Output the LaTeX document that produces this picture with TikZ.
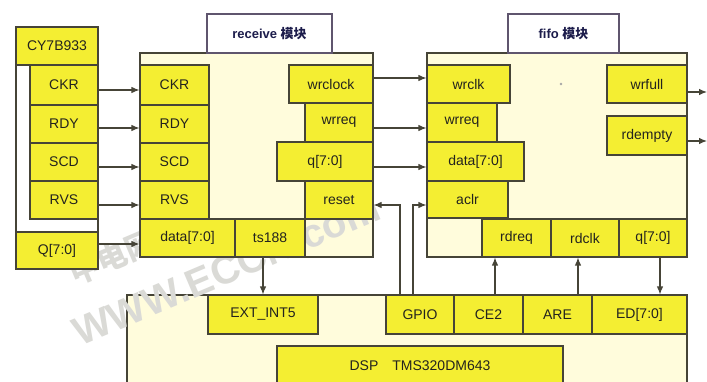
\documentclass[tikz,border=0pt]{standalone}
\usepackage{fontspec}
\setmainfont{Liberation Sans}
\newfontfamily\cjk{Noto Sans CJK SC}
\usetikzlibrary{arrows.meta}
\definecolor{yel}{RGB}{244,238,50}
\definecolor{cream}{RGB}{255,252,220}
\definecolor{bcol}{RGB}{70,68,55}
\definecolor{tcol}{RGB}{95,85,110}
\definecolor{txt}{RGB}{35,35,30}
\definecolor{wm}{RGB}{218,218,214}
\tikzset{
  ybox/.style={draw=bcol, fill=yel, line width=1.1pt, inner sep=0pt, font=\fontsize{14}{16}\selectfont, text=txt},
  frame/.style={draw=bcol, fill=cream, line width=1.1pt},
  wframe/.style={draw=bcol, fill=white, line width=1.1pt},
  tbox/.style={draw=tcol, fill=white, line width=1.1pt, inner sep=0pt, font=\fontsize{13}{15}\selectfont\bfseries, text=txt!80!blue},
  arr/.style={draw=bcol, line width=1.1pt, -{Latex[length=8pt,width=6.5pt]}},
  wmark/.style={text=wm, font=\fontsize{40}{44}\selectfont\bfseries, rotate=23}
}
\begin{document}
\begin{tikzpicture}[x=1pt,y=-1pt]
\clip (0,0) rectangle (707,382);
\fill[white] (0,0) rectangle (707,382);
% frames
\draw[wframe] (16,27) rectangle (98,232);
\draw[frame] (140,53) rectangle (373,257);
\draw[frame] (427,53) rectangle (687,257);
\draw[frame] (127,295) rectangle (687,420);
% watermark
\node[wmark, font=\fontsize{30}{34}\selectfont\bfseries] (wm1) at (112,257) {\cjk 中电网};
\node[wmark] (wm2) at (226,270) {WWW.ECCN.com};
% CY7B933
\node[ybox, minimum width=82, minimum height=38] (cy) at (57,46) {CY7B933};
\node[ybox, minimum width=68, minimum height=40] (ckra) at (64,85) {CKR};
\node[ybox, minimum width=68, minimum height=38] (rdya) at (64,124) {RDY};
\node[ybox, minimum width=68, minimum height=38] (scda) at (64,162) {SCD};
\node[ybox, minimum width=68, minimum height=38] (rvsa) at (64,200) {RVS};
\node[ybox, minimum width=82, minimum height=37] (qa) at (57,250.5) {Q[7:0]};
% receive
\node[tbox, minimum width=125, minimum height=39] (rtitle) at (269.5,33.5) {receive {\cjk 模块}};
\node[ybox, minimum width=69, minimum height=40] (ckrb) at (174.5,85) {CKR};
\node[ybox, minimum width=69, minimum height=38] (rdyb) at (174.5,124) {RDY};
\node[ybox, minimum width=69, minimum height=38] (scdb) at (174.5,162) {SCD};
\node[ybox, minimum width=69, minimum height=38] (rvsb) at (174.5,200) {RVS};
\node[ybox, minimum width=95, minimum height=38] (datab) at (187.5,238) {data[7:0]};
\node[ybox, minimum width=70, minimum height=38] (ts) at (270,238) {ts188};
\node[ybox, minimum width=84, minimum height=38] (wrclock) at (331,84) {wrclock};
\node[ybox, minimum width=68, minimum height=39] (wrreqb) at (339,122.5) {wrreq};
\node[ybox, minimum width=96, minimum height=39] (qb) at (325,161.5) {q[7:0]};
\node[ybox, minimum width=68, minimum height=38] (reset) at (339,200) {reset};
% fifo
\node[tbox, minimum width=111, minimum height=39] (ftitle) at (563.5,33.5) {fifo {\cjk 模块}};
\node[ybox, minimum width=83, minimum height=38] (wrclk) at (468.5,84) {wrclk};
\node[ybox, minimum width=70, minimum height=39] (wrreqf) at (462,122.5) {wrreq};
\node[ybox, minimum width=97, minimum height=39] (dataf) at (475.5,161.5) {data[7:0]};
\node[ybox, minimum width=81, minimum height=37] (aclr) at (467.5,199.5) {aclr};
\node[ybox, minimum width=69, minimum height=38] (rdreq) at (516.5,238) {rdreq};
\node[ybox, minimum width=68, minimum height=38] (rdclk) at (585,238) {rdclk};
\node[ybox, minimum width=68, minimum height=38] (qf) at (653,238) {q[7:0]};
\node[ybox, minimum width=80, minimum height=38] (wrfull) at (647,84) {wrfull};
\node[ybox, minimum width=80, minimum height=39] (rdempty) at (647,135.5) {rdempty};
\fill[gray!70] (561,84) circle (1.3);
% DSP
\node[ybox, minimum width=110, minimum height=39] (ext) at (263,314.5) {EXT\_INT5};
\node[ybox, minimum width=68, minimum height=39] (gpio) at (420,314.5) {GPIO};
\node[ybox, minimum width=69, minimum height=39] (ce2) at (488.5,314.5) {CE2};
\node[ybox, minimum width=69, minimum height=39] (are) at (557.5,314.5) {ARE};
\node[ybox, minimum width=95, minimum height=39] (ed) at (639.5,314.5) {ED[7:0]};
\node[ybox, minimum width=286, minimum height=40] (dsp) at (420,366) {DSP\quad TMS320DM643};
% coordinates
\coordinate (o1) at (707,92);
\coordinate (o2) at (707,141);
\coordinate (g1) at (400,205);
\coordinate (g2) at (413,205);
% arrows
\draw[arr] ([yshift=-5pt]ckra.east) -- ([yshift=-5pt]ckrb.west);
\draw[arr] ([yshift=-4pt]rdya.east) -- ([yshift=-4pt]rdyb.west);
\draw[arr] ([yshift=-5pt]scda.east) -- ([yshift=-5pt]scdb.west);
\draw[arr] ([yshift=-5pt]rvsa.east) -- ([yshift=-5pt]rvsb.west);
\draw[arr] ([yshift=6.5pt]qa.east) -- ([yshift=-6pt]datab.west);
\draw[arr] ([yshift=6pt]wrclock.east) -- ([yshift=6pt]wrclk.west);
\draw[arr] ([yshift=-5.5pt]wrreqb.east) -- ([yshift=-5.5pt]wrreqf.west);
\draw[arr] ([yshift=-5.5pt]qb.east) -- ([yshift=-5.5pt]dataf.west);
\draw[arr] ([yshift=-8pt]wrfull.east) -- (o1);
\draw[arr] ([yshift=-5.5pt]rdempty.east) -- (o2);
\draw[arr] ([xshift=-7pt]ts.south) -- ([xshift=-7pt]ts.south |- ext.north);
\draw[arr] (gpio.north -| g1) -- (g1) -- (g1 -| reset.east);
\draw[arr] (gpio.north -| g2) -- (g2) -- (g2 -| aclr.west);
\draw[arr] (ce2.north -| 495,0) -- (rdreq.south -| 495,0);
\draw[arr] (are.north -| 578,0) -- (rdclk.south -| 578,0);
\draw[arr] (qf.south -| 660,0) -- (ed.north -| 660,0);
\end{tikzpicture}
\end{document}
